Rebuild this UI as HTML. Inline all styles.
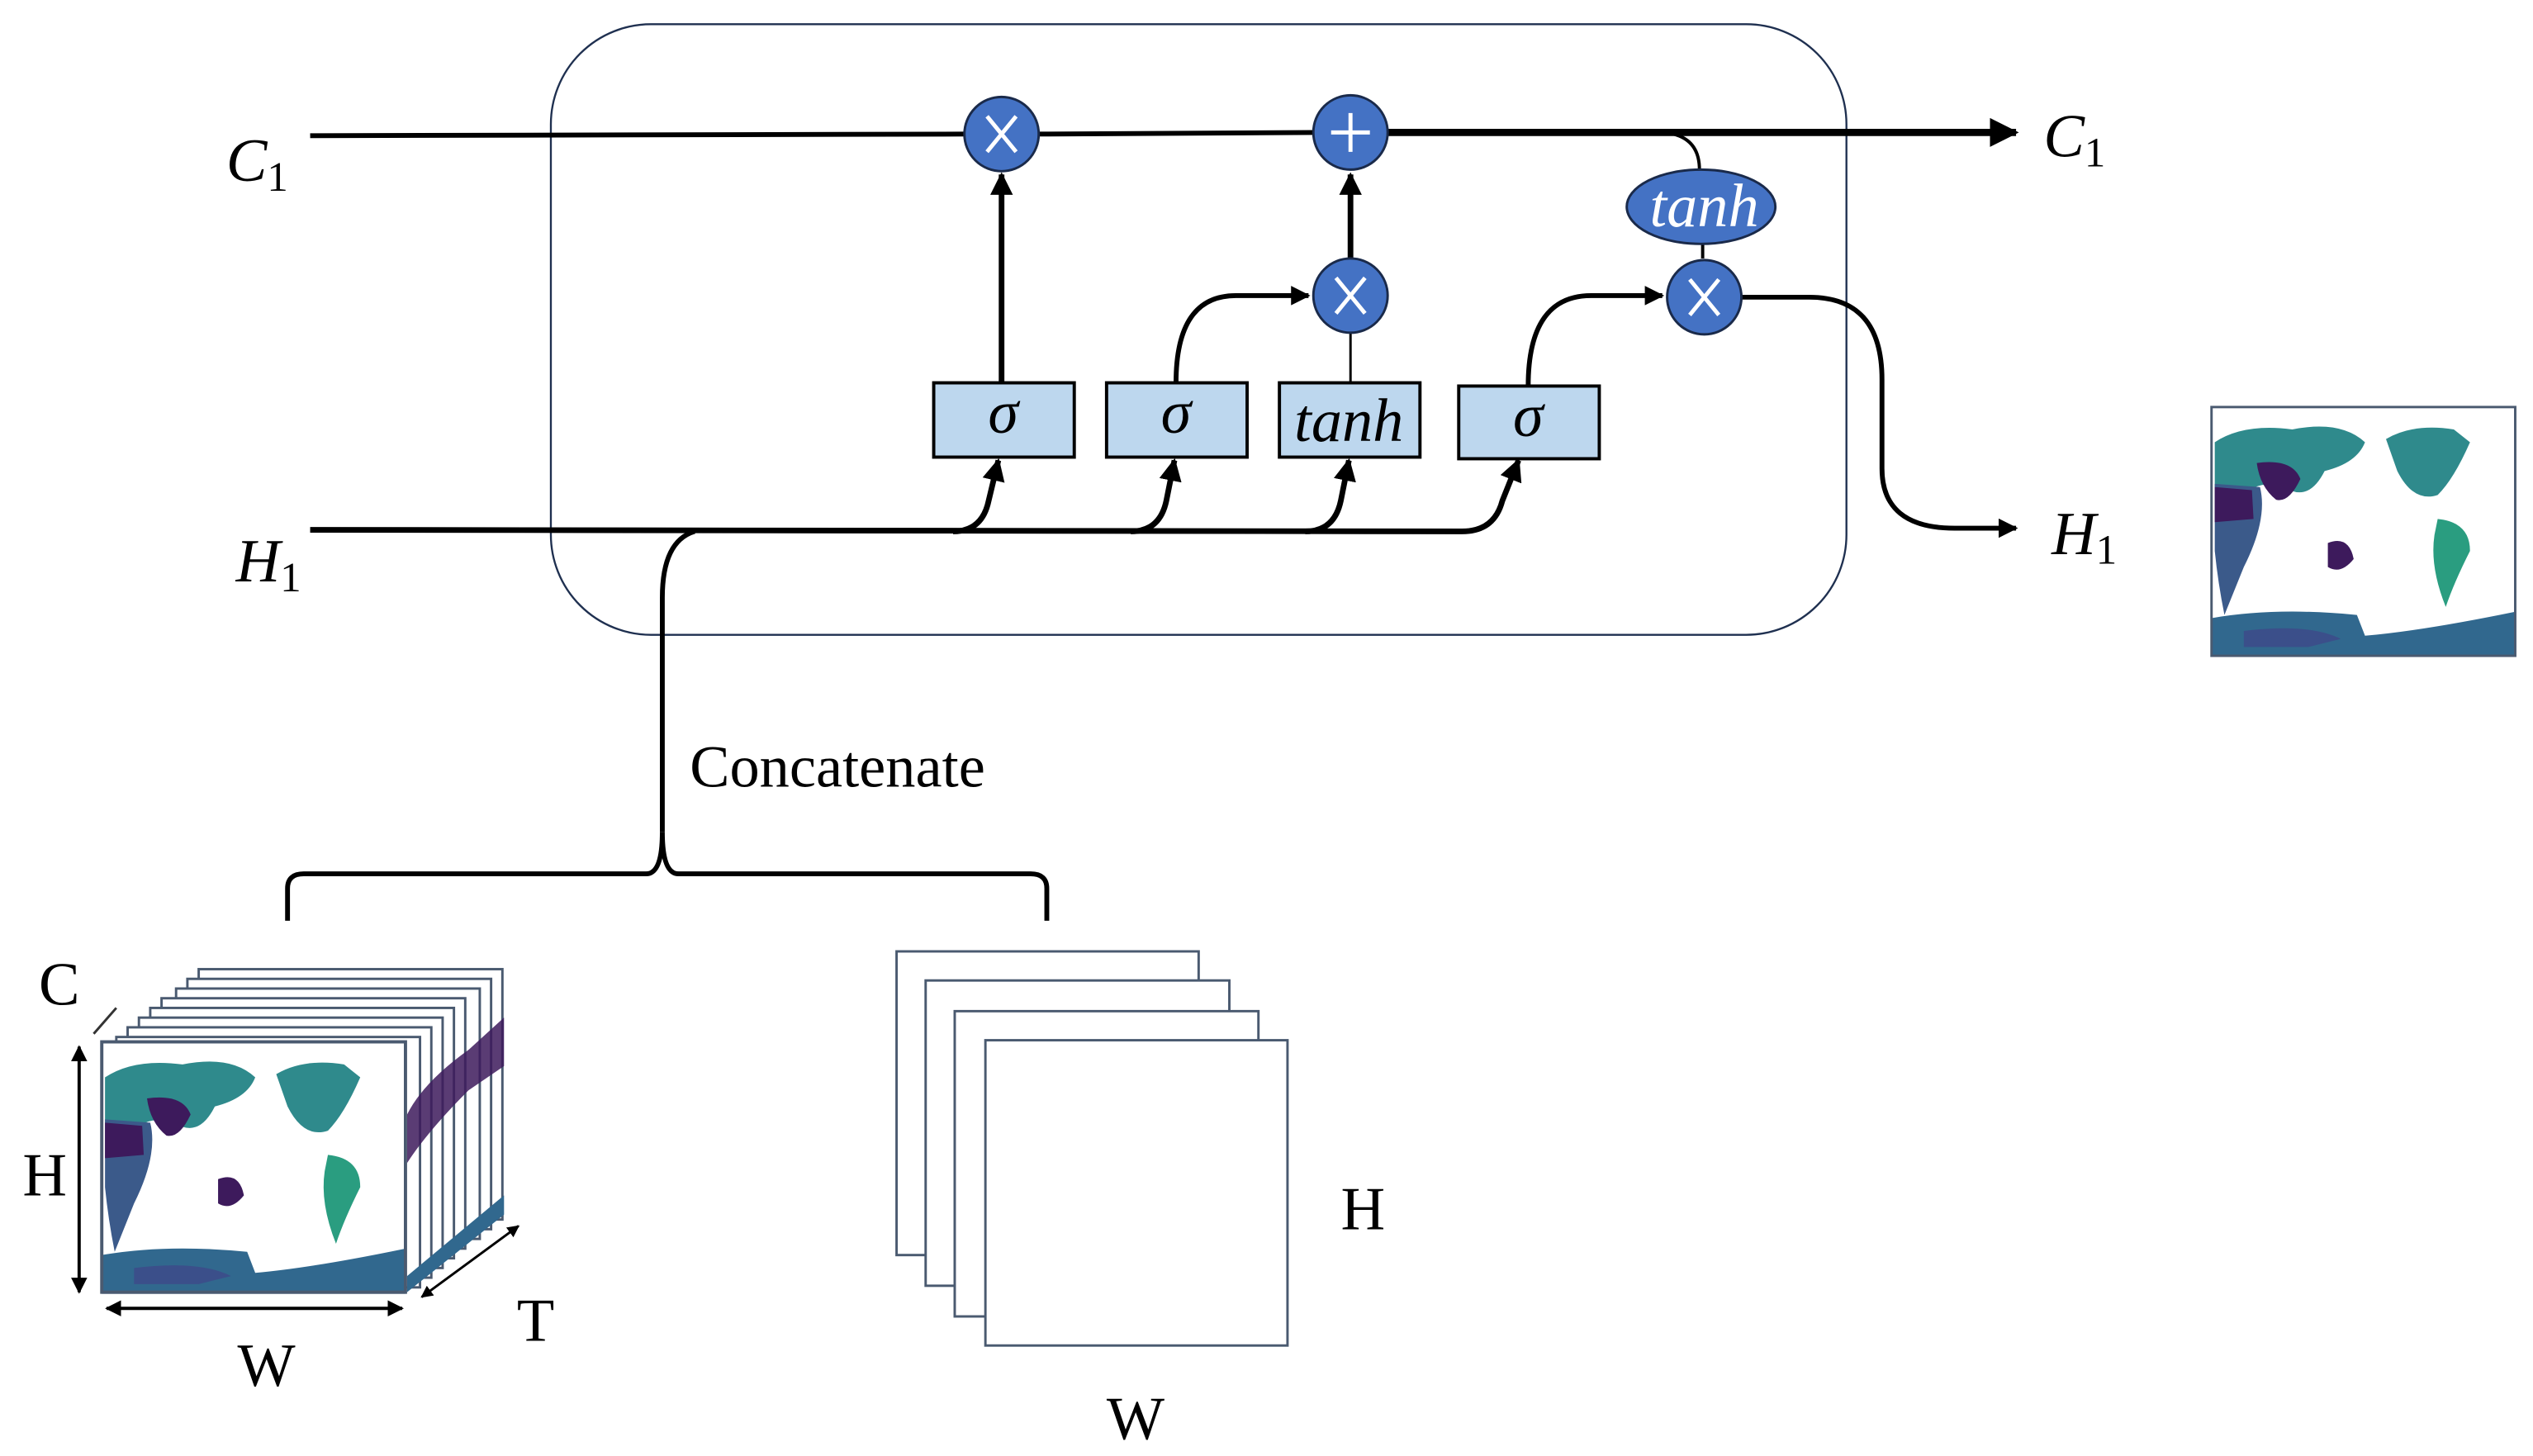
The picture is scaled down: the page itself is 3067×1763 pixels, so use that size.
<!DOCTYPE html>
<html><head><meta charset="utf-8"><style>
html,body{margin:0;padding:0;background:#fff;}
svg{display:block;}
text{font-family:"Liberation Serif",serif;}
</style></head><body>
<svg width="3067" height="1763" viewBox="0 0 1568 901.4" preserveAspectRatio="none" xmlns="http://www.w3.org/2000/svg" font-family="Liberation Serif, serif">
<defs>
<marker id="ar" viewBox="0 0 10 10" refX="9" refY="5" markerWidth="4" markerHeight="4" orient="auto-start-reverse"><path d="M0,0L10,5L0,10z" fill="#000"/></marker>
<marker id="ar2" viewBox="0 0 10 10" refX="9" refY="5" markerWidth="5" markerHeight="5" orient="auto-start-reverse"><path d="M0,0L10,5L0,10z" fill="#000"/></marker>
<g id="map">
<rect x="0" y="0" width="188" height="156" fill="#fff"/>
<path d="M2,22 Q20,10 50,14 Q80,8 95,22 Q90,35 70,40 Q60,60 45,50 Q30,45 20,55 L2,50z" fill="#2f8a8c"/>
<path d="M2,48 L30,50 Q35,70 20,100 Q12,120 8,130 Q4,110 2,90z" fill="#3b5a8a"/>
<path d="M2,50 L25,52 L26,70 L2,72z" fill="#3d1a5c"/>
<path d="M28,35 Q50,32 55,45 Q48,60 40,58 Q30,50 28,35z" fill="#3d1a5c"/>
<path d="M72,85 Q85,80 88,95 Q80,105 72,100z" fill="#3d1a5c"/>
<path d="M108,20 Q125,10 150,14 L160,22 Q150,45 140,55 Q125,60 115,40z" fill="#2f8a8c"/>
<path d="M140,70 Q160,72 160,90 Q150,110 145,125 Q135,100 138,80z" fill="#2a9d80"/>
<path d="M0,132 Q40,125 90,130 L95,143 Q130,140 188,128 L188,156 L0,156z" fill="#31688e"/>
<path d="M20,140 Q60,135 80,145 L60,150 L20,150z" fill="#3b4f8a"/>
</g>
</defs>

<rect x="341" y="15" width="802" height="378" rx="62" ry="62" fill="none" stroke="#1f3050" stroke-width="1.2"/>

<line x1="192" y1="84" x2="597" y2="83" stroke="#000" stroke-width="3"/>
<line x1="643" y1="83" x2="813" y2="82" stroke="#000" stroke-width="3"/>
<line x1="859" y1="82" x2="1248" y2="82" stroke="#000" stroke-width="4.5" marker-end="url(#ar)"/>
<path d="M1030,82 Q1052,84 1052,105" fill="none" stroke="#000" stroke-width="2"/>
<line x1="1054" y1="150" x2="1054" y2="160" stroke="#000" stroke-width="2"/>

<line x1="620" y1="237" x2="620" y2="108" stroke="#000" stroke-width="3.5" marker-end="url(#ar)"/>
<line x1="836" y1="160" x2="836" y2="108" stroke="#000" stroke-width="3.5" marker-end="url(#ar)"/>
<line x1="836" y1="237" x2="836" y2="206" stroke="#000" stroke-width="1.5"/>
<path d="M728,237 Q728,183 765,183 L810,183" fill="none" stroke="#000" stroke-width="3" marker-end="url(#ar)"/>
<path d="M946,239 Q946,183 985,183 L1029,183" fill="none" stroke="#000" stroke-width="3" marker-end="url(#ar)"/>
<path d="M1078,184 L1120,184 Q1165,184 1165,235 L1165,290 Q1165,327 1210,327 L1248,327" fill="none" stroke="#000" stroke-width="3" marker-end="url(#ar)"/>

<path d="M192,328 L905,329 Q925,329 930,310 L940,285" fill="none" stroke="#000" stroke-width="3.5" marker-end="url(#ar)"/>
<path d="M590,329 Q608,329 612,310 L618,285" fill="none" stroke="#000" stroke-width="3.5" marker-end="url(#ar)"/>
<path d="M700,329 Q718,329 722,310 L727,285" fill="none" stroke="#000" stroke-width="3.5" marker-end="url(#ar)"/>
<path d="M808,329 Q826,329 830,310 L835,285" fill="none" stroke="#000" stroke-width="3.5" marker-end="url(#ar)"/>

<g stroke="#1a2a4a" stroke-width="1.5" fill="#4472c4">
<circle cx="620" cy="83" r="23"/><circle cx="836" cy="82" r="23"/>
<circle cx="836" cy="183" r="23"/><circle cx="1055" cy="184" r="23"/>
<ellipse cx="1053" cy="128" rx="46" ry="23"/>
</g>
<g stroke="#fff" stroke-width="2.5">
<path d="M611,72L629,94M629,72L611,94"/><path d="M827,172L845,194M845,172L827,194"/><path d="M1046,173L1064,195M1064,173L1046,195"/>
<path d="M836,70L836,94M824,82L848,82"/>
</g>
<text x="1055" y="140" font-size="38" font-style="italic" fill="#fff" text-anchor="middle" font-family="Liberation Serif, serif">tanh</text>

<g fill="#bdd7ee" stroke="#000" stroke-width="2">
<rect x="578" y="237" width="87" height="46"/><rect x="685" y="237" width="87" height="46"/>
<rect x="792" y="237" width="87" height="46"/><rect x="903" y="239" width="87" height="45"/>
</g>
<g font-size="38" font-style="italic" text-anchor="middle" font-family="Liberation Serif, serif">
<text x="621" y="268">σ</text><text x="728" y="268">σ</text><text x="835" y="273">tanh</text><text x="946" y="270">σ</text>
</g>

<g font-size="38" font-style="italic" font-family="Liberation Serif, serif">
<text x="140" y="112">C<tspan font-size="26" font-style="normal" dy="6">1</tspan></text>
<text x="146" y="360">H<tspan font-size="26" font-style="normal" dy="6">1</tspan></text>
<text x="1265" y="97">C<tspan font-size="26" font-style="normal" dy="6">1</tspan></text>
<text x="1270" y="343">H<tspan font-size="26" font-style="normal" dy="6">1</tspan></text>
</g>

<path d="M430,329 Q410,335 410,370 L410,515" fill="none" stroke="#000" stroke-width="3"/>
<path d="M178,570 L178,550 Q178,541 188,541 L400,541 Q410,541 410,515 Q410,541 420,541 L638,541 Q648,541 648,550 L648,570" fill="none" stroke="#000" stroke-width="3"/>
<text x="427" y="487" font-size="37" font-family="Liberation Serif, serif">Concatenate</text>

<use href="#map" transform="translate(1369,252) scale(1,0.99)"/>
<rect x="1369" y="252" width="188" height="154" fill="none" stroke="#4a5a70" stroke-width="1.5"/>

<g fill="#fff" stroke="#4a5a70" stroke-width="1.5">
<rect x="123" y="600" width="188" height="155"/>
<rect x="116" y="606" width="188" height="155"/>
<rect x="109" y="612" width="188" height="155"/>
<rect x="100" y="618" width="188" height="155"/>
<rect x="93" y="624" width="188" height="155"/>
<rect x="86" y="630" width="188" height="155"/>
<rect x="79" y="636" width="188" height="155"/>
<rect x="72" y="642" width="188" height="155"/>
</g>
<path d="M252,690 Q262,670 290,650 L312,630 L312,660 L290,675 Q265,700 252,720z" fill="#3d1a5c" opacity="0.85"/>
<path d="M252,790 L312,740 L312,752 L252,800z" fill="#31688e"/>
<use href="#map" transform="translate(63,645) scale(1,1)"/>
<rect x="63" y="645" width="188" height="155" fill="none" stroke="#4a5a70" stroke-width="2"/>
<line x1="49" y1="800" x2="49" y2="648" stroke="#000" stroke-width="2" marker-end="url(#ar2)" marker-start="url(#ar2)"/>
<line x1="66" y1="810" x2="249" y2="810" stroke="#000" stroke-width="2" marker-end="url(#ar2)" marker-start="url(#ar2)"/>
<line x1="261" y1="803" x2="321" y2="759" stroke="#000" stroke-width="1.5" marker-end="url(#ar2)" marker-start="url(#ar2)"/>
<line x1="58" y1="640" x2="72" y2="624" stroke="#333" stroke-width="1.5"/>
<g font-size="38" font-family="Liberation Serif, serif">
<text x="24" y="622">C</text><text x="14" y="740">H</text><text x="147" y="858">W</text><text x="320" y="830">T</text>
<text x="830" y="761">H</text><text x="685" y="891">W</text>
</g>

<g fill="#fff" stroke="#4a5a70" stroke-width="1.5">
<rect x="555" y="589" width="187" height="188"/>
<rect x="573" y="607" width="188" height="189"/>
<rect x="591" y="626" width="188" height="189"/>
<rect x="610" y="644" width="187" height="189"/>
</g>
</svg>
</body></html>
